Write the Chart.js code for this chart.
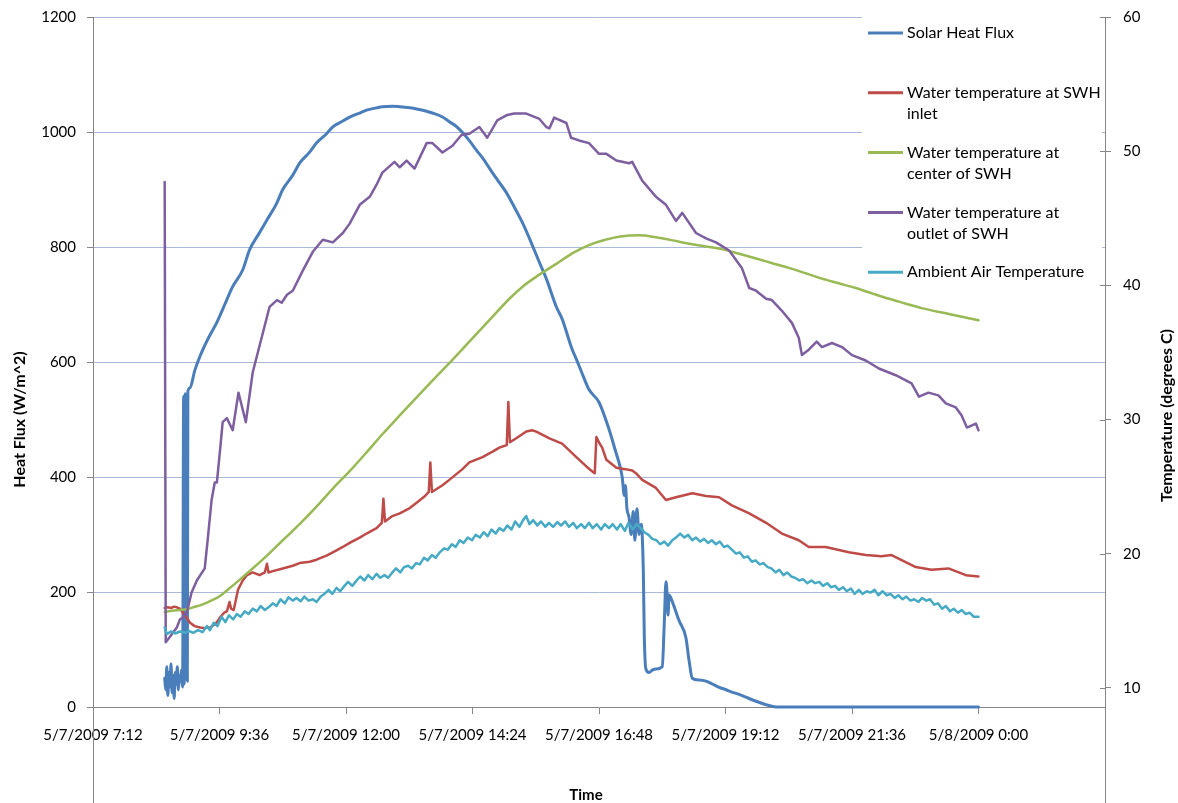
<!DOCTYPE html>
<html>
<head>
<meta charset="utf-8">
<title>Solar water heater test, 5/7/2009</title>
<script src="https://cdn.jsdelivr.net/npm/chart.js@4.4.1/dist/chart.umd.min.js"></script>
<style>
  html, body { margin: 0; padding: 0; background: #fff; overflow: hidden; }
  canvas { display: block; }
</style>
</head>
<body>
<canvas id="chart" width="1178" height="830"></canvas>
<script>
// Time axis: hours after midnight of 5/7/2009 (24 = midnight 5/8/2009)
const tickHours = [7.2, 9.6, 12.0, 14.4, 16.8, 19.2, 21.6, 24.0];
const tickLabels = ['5/7/2009 7:12', '5/7/2009 9:36', '5/7/2009 12:00', '5/7/2009 14:24',
                    '5/7/2009 16:48', '5/7/2009 19:12', '5/7/2009 21:36', '5/8/2009 0:00'];

// Solar heat flux, W/m^2 (left axis)
const fluxHours = [8.56,8.58,8.60,8.62,8.64,8.66,8.68,8.70,8.72,8.74,8.76,8.78,8.80,8.82,8.84,8.86,8.88,8.90,
  8.92,8.93,8.95,8.96,8.98,8.99,9.00,
  9.04,9.13,9.23,9.38,9.55,9.70,9.85,10.04,10.17,10.36,10.50,10.68,10.80,10.99,11.12,11.31,11.44,11.63,11.75,11.94,
  12.07,12.26,12.39,12.58,12.69,12.88,13.02,13.21,13.34,13.53,13.64,13.83,13.96,14.09,14.21,14.34,14.47,14.59,14.78,14.91,
  15.04,15.19,15.35,15.48,15.67,15.80,15.99,16.10,16.29,16.37,16.48,16.61,16.80,16.99,17.13,17.18,
  17.24,17.28,17.30,17.33,17.37,17.41,17.45,17.48,17.52,17.56,17.60,17.64,17.66,17.69,
  17.75,17.81,17.88,18.00,18.04,18.07,18.09,18.11,18.13,18.17,18.32,18.45,18.51,18.57,
  18.70,18.83,18.95,19.08,19.21,19.32,19.46,19.59,19.78,19.97,20.10,20.21,24.00];
const fluxValues = [50,30,70,20,60,35,75,25,55,15,60,40,70,30,55,45,65,35,
  540,40,545,50,535,45,549,
  555,585,610,640,669,700,731,760,795,825,847,875,900,925,946,965,981,997,1009,1019,
  1026,1033,1038,1042,1044,1045,1044,1042,1040,1036,1033,1026,1018,1010,999,985,969,955,929,912,
  895,870,842,815,773,745,696,675,622,605,580,552,530,483,440,425,
  400,368,385,345,330,300,340,290,345,300,318,240,120,66,
  60,64,66,70,150,218,200,160,195,188,150,120,80,50,
  47,45,40,34,30,26,22,17,10,4,1,0,0];

// Water temperature at SWH inlet, deg C (right axis)
const inletHours = [8.56,8.62,8.68,8.74,8.79,8.85,8.91,8.98,9.04,9.13,9.23,9.32,9.42,9.50,9.55,9.62,9.69,9.74,9.79,9.82,
  9.87,9.95,10.04,10.12,10.23,10.36,10.46,10.50,10.53,10.61,10.80,10.99,11.12,11.31,11.44,11.63,11.75,11.94,12.07,12.26,
  12.39,12.58,12.68,12.71,12.74,12.88,13.02,13.21,13.34,13.50,13.57,13.60,13.63,13.83,13.96,14.21,14.34,14.59,14.78,14.91,
  15.05,15.08,15.11,15.23,15.42,15.53,15.61,15.86,16.10,16.37,16.56,16.68,16.72,16.75,16.80,16.86,16.94,17.13,17.30,17.43,
  17.50,17.62,17.75,17.88,18.07,18.26,18.57,18.83,19.08,19.32,19.65,19.97,20.27,20.59,20.78,21.10,21.54,21.86,22.16,22.35,
  22.81,23.11,23.43,23.76,24.00];
const inletTemps = [15.96,16.0,15.95,16.05,16.0,15.9,15.6,15.2,14.85,14.6,14.5,14.45,14.5,14.7,14.9,15.3,15.6,15.7,16.4,15.9,
  15.8,17.3,18.0,18.4,18.6,18.4,18.6,19.25,18.6,18.7,18.9,19.1,19.3,19.4,19.55,19.85,20.1,20.5,20.8,21.2,
  21.5,21.9,22.3,24.1,22.4,22.8,23.0,23.4,23.8,24.3,24.6,26.8,24.6,25.1,25.5,26.3,26.8,27.2,27.6,27.9,
  28.1,31.3,28.3,28.6,29.1,29.2,29.1,28.6,28.2,27.2,26.5,26.1,26.0,28.7,28.3,27.9,27.0,26.4,26.3,26.2,
  26.0,25.5,25.2,24.9,24.0,24.2,24.5,24.3,24.2,23.6,23.0,22.3,21.5,21.0,20.5,20.5,20.1,19.9,19.8,19.9,
  19.0,18.8,18.9,18.4,18.3];

// Water temperature at center of SWH, deg C
const centerHours = [8.56,8.70,8.85,8.98,9.10,9.23,9.36,9.55,9.66,9.80,9.98,10.17,10.36,10.50,10.80,11.12,11.44,11.75,12.07,12.39,
  12.69,13.02,13.34,13.64,13.96,14.34,14.72,15.10,15.35,15.67,15.99,16.30,16.61,16.92,17.24,17.56,17.88,18.20,18.51,18.82,
  19.13,19.46,19.78,20.09,20.40,20.72,21.03,21.35,21.67,21.98,22.30,22.61,22.92,23.46,24.00];
const centerTemps = [15.66,15.75,15.8,15.85,16.0,16.15,16.35,16.7,17.0,17.45,18.05,18.7,19.35,19.85,21.0,22.2,23.5,24.85,26.15,27.55,
  28.9,30.3,31.65,32.9,34.2,35.8,37.4,39.0,39.9,40.8,41.6,42.4,43.0,43.4,43.66,43.73,43.58,43.35,43.1,42.9,
  42.7,42.35,42.0,41.65,41.3,40.9,40.5,40.15,39.8,39.4,39.0,38.65,38.3,37.85,37.4];

// Water temperature at outlet of SWH, deg C
const outletHours = [8.56,8.58,8.66,8.79,8.85,8.89,8.98,9.07,9.17,9.32,9.38,9.45,9.51,9.55,9.61,9.66,9.74,9.85,9.96,10.10,
  10.23,10.36,10.55,10.69,10.78,10.88,10.99,11.18,11.37,11.56,11.75,11.94,12.07,12.26,12.45,12.58,12.69,12.92,13.02,13.15,
  13.30,13.53,13.64,13.83,14.02,14.19,14.34,14.53,14.68,14.87,15.06,15.19,15.42,15.67,15.80,15.86,15.95,16.18,16.27,16.42,
  16.61,16.80,16.94,17.13,17.37,17.43,17.62,17.88,18.07,18.26,18.38,18.64,18.83,19.02,19.27,19.51,19.65,19.78,19.97,20.08,
  20.27,20.46,20.59,20.65,20.78,20.93,21.03,21.22,21.41,21.60,21.86,22.11,22.43,22.73,22.87,23.05,23.24,23.38,23.57,23.68,
  23.78,23.95,24.00];
const outletTemps = [47.7,13.4,13.8,14.5,15.1,15.2,15.6,17.1,18.0,18.9,21.2,24.0,25.3,25.3,27.7,29.8,30.1,29.2,32.0,29.8,
  33.5,35.5,38.4,38.9,38.7,39.3,39.6,41.1,42.5,43.4,43.2,43.9,44.6,46.0,46.6,47.5,48.4,49.2,48.8,49.3,
  48.7,50.6,50.6,49.9,50.4,51.2,51.3,51.8,51.0,52.3,52.7,52.8,52.8,52.4,51.8,51.7,52.5,52.1,51.0,50.8,
  50.6,49.8,49.8,49.3,49.1,49.2,47.8,46.6,46.0,44.8,45.4,43.9,43.5,43.2,42.6,41.3,39.8,39.6,39.0,38.9,
  38.1,37.2,36.1,34.8,35.2,35.8,35.4,35.7,35.4,34.8,34.4,33.8,33.3,32.7,31.7,32.0,31.8,31.2,30.9,30.3,
  29.4,29.7,29.2];

// Ambient air temperature, deg C
const ambientHours = [8.56,8.60,8.68,8.76,8.85,8.94,9.02,9.10,9.19,9.28,9.36,9.42,9.49,9.56,9.64,9.71,9.78,9.86,9.93,10.00,
  10.08,10.15,10.23,10.31,10.38,10.46,10.53,10.61,10.68,10.76,10.84,10.91,10.99,11.06,11.14,11.21,11.29,11.37,11.44,11.52,
  11.59,11.67,11.74,11.82,11.89,11.97,12.04,12.12,12.20,12.27,12.35,12.42,12.50,12.58,12.65,12.73,12.80,12.88,12.95,13.03,
  13.10,13.18,13.25,13.33,13.40,13.48,13.55,13.63,13.70,13.78,13.86,13.93,14.01,14.08,14.16,14.23,14.31,14.39,14.46,14.54,
  14.61,14.69,14.76,14.84,14.91,14.99,15.06,15.14,15.21,15.29,15.36,15.42,15.48,15.55,15.63,15.70,15.78,15.85,15.93,16.01,
  16.08,16.16,16.23,16.31,16.38,16.46,16.53,16.61,16.68,16.76,16.84,16.91,16.99,17.06,17.14,17.21,17.29,17.36,17.44,17.51,
  17.59,17.66,17.74,17.81,17.89,17.96,18.04,18.11,18.19,18.26,18.34,18.42,18.49,18.57,18.64,18.72,18.79,18.87,18.94,19.02,
  19.09,19.17,19.24,19.32,19.40,19.47,19.55,19.62,19.70,19.77,19.85,19.92,20.00,20.07,20.15,20.22,20.30,20.37,20.45,20.52,
  20.60,20.67,20.75,20.83,20.90,20.98,21.05,21.13,21.20,21.28,21.35,21.43,21.50,21.58,21.65,21.73,21.80,21.88,21.95,22.03,
  22.10,22.18,22.26,22.33,22.41,22.48,22.56,22.63,22.71,22.78,22.86,22.93,23.01,23.08,23.16,23.23,23.31,23.38,23.46,23.53,
  23.61,23.68,23.76,23.83,23.91,24.00];
const ambientTemps = [14.5,14.0,14.2,14.05,14.2,14.1,14.25,14.1,14.3,14.15,14.6,14.3,14.85,14.6,15.3,14.9,15.4,15.1,15.5,15.3,
  15.7,15.5,15.9,15.7,16.1,15.8,16.0,16.3,16.1,16.6,16.3,16.75,16.5,16.7,16.45,16.8,16.5,16.6,16.4,16.8,
  17.0,17.3,17.0,17.45,17.2,17.6,17.9,17.6,18.0,18.3,18.0,18.4,18.1,18.5,18.2,18.4,18.2,18.6,18.9,18.6,
  19.0,19.1,18.9,19.3,19.2,19.7,19.5,19.9,19.7,20.1,20.4,20.3,20.7,20.5,21.0,20.8,21.2,21.0,21.4,21.2,
  21.6,21.3,21.8,21.5,21.9,21.7,22.1,21.8,22.4,22.0,22.5,22.8,22.2,22.5,22.1,22.4,22.0,22.3,22.0,22.35,
  22.1,22.4,22.0,22.3,21.9,22.2,21.9,22.3,21.9,22.2,21.8,22.2,21.9,22.2,21.8,22.2,21.7,22.3,21.8,22.2,
  21.9,21.6,21.4,21.1,21.0,20.7,20.9,20.6,21.0,21.2,21.5,21.2,21.4,21.0,21.2,20.9,21.1,20.8,21.0,20.7,
  20.9,20.5,20.6,20.3,20.0,20.1,19.7,19.8,19.4,19.5,19.2,19.3,19.0,18.9,18.6,18.8,18.4,18.6,18.3,18.2,
  18.0,18.1,17.8,18.0,17.8,17.9,17.6,17.8,17.5,17.6,17.3,17.5,17.2,17.4,17.0,17.3,17.0,17.2,17.1,17.3,
  16.9,17.2,16.9,17.0,16.7,16.9,16.6,16.8,16.5,16.6,16.4,16.7,16.5,16.6,16.2,16.3,15.9,16.1,15.7,15.9,
  15.6,15.8,15.5,15.6,15.3,15.3];

const FONT = 'Lato, "Open Sans", "DejaVu Sans", sans-serif';
const AXIS_GREY = '#868686';
const GRID_BLUE = '#aab8d9';
const RIGHT_TITLE = 'Temperature (degrees C)';
const BOTTOM_TITLE = 'Time';

const toPoints = (xs, ys) => xs.map((x, i) => ({ x: x, y: ys[i] }));

function series(label, xs, ys, color, axis, order, width, smooth) {
  return {
    label: label,
    data: toPoints(xs, ys),
    borderColor: color,
    backgroundColor: color,
    borderWidth: width,
    yAxisID: axis,
    order: order,
    pointRadius: 0,
    tension: 0,
    cubicInterpolationMode: smooth ? 'monotone' : 'default',
    borderJoinStyle: 'round',
    borderCapStyle: 'round',
    fill: false
  };
}

// word wrap for the legend entries
function wrapText(ctx, text, maxWidth) {
  const words = text.split(' ');
  const lines = [];
  let line = '';
  words.forEach(w => {
    const test = line ? line + ' ' + w : w;
    if (line && ctx.measureText(test).width > maxWidth) { lines.push(line); line = w; }
    else { line = test; }
  });
  if (line) lines.push(line);
  return lines;
}

// Legend drawn on a white panel inside the plot, the inner half of the
// temperature-axis tick marks, and the right and bottom axis titles
const overlayPlugin = {
  id: 'overlay',
  afterDatasetsDraw(chart) {
    const ctx = chart.ctx;
    const area = chart.chartArea;
    ctx.save();
    ctx.fillStyle = '#ffffff';
    ctx.fillRect(862, 10, 240, 274);
    ctx.font = '16px ' + FONT;
    ctx.textBaseline = 'middle';
    ctx.textAlign = 'left';
    chart.data.datasets.forEach((ds, i) => {
      const y = 33 + i * 59.8;
      ctx.strokeStyle = ds.borderColor;
      ctx.lineWidth = 3;
      ctx.beginPath();
      ctx.moveTo(868, y);
      ctx.lineTo(903, y);
      ctx.stroke();
      ctx.fillStyle = '#000';
      wrapText(ctx, ds.label, 197).forEach((ln, k) => ctx.fillText(ln, 907, y + k * 21.5));
    });

    const tScale = chart.scales.y1;
    ctx.strokeStyle = AXIS_GREY;
    ctx.lineWidth = 1;
    tScale.ticks.forEach(t => {
      const py = Math.round(tScale.getPixelForValue(t.value)) + 0.5;
      ctx.beginPath();
      ctx.moveTo(area.right - 5, py);
      ctx.lineTo(area.right, py);
      ctx.stroke();
    });

    ctx.font = 'bold 15px ' + FONT;
    ctx.fillStyle = '#000';
    ctx.textAlign = 'center';
    ctx.fillText(BOTTOM_TITLE, 586, 795);
    ctx.font = 'bold 16px ' + FONT;
    ctx.translate(1167, (area.top + area.bottom) / 2 - 4);
    ctx.rotate(-Math.PI / 2);
    ctx.fillText(RIGHT_TITLE, 0, 0);
    ctx.restore();
  }
};

const tickFont = { family: FONT, size: 15 };
// vertical axes: no extra margin above/below the plot for the end labels
const noVerticalMargins = s => { s.paddingTop = 0; s.paddingBottom = 0; };

new Chart(document.getElementById('chart'), {
  type: 'line',
  data: {
    datasets: [
      series('Solar Heat Flux', fluxHours, fluxValues, '#4a7ebb', 'y', 5, 3, true),
      series('Water temperature at SWH inlet', inletHours, inletTemps, '#be4b48', 'y1', 4, 2.5, false),
      series('Water temperature at center of SWH', centerHours, centerTemps, '#98b954', 'y1', 3, 2.5, true),
      series('Water temperature at outlet of SWH', outletHours, outletTemps, '#7d5fa0', 'y1', 2, 2.5, false),
      series('Ambient Air Temperature', ambientHours, ambientTemps, '#46aac5', 'y1', 1, 2.5, false)
    ]
  },
  options: {
    responsive: false,
    animation: false,
    events: [],
    layout: { padding: { top: 17, bottom: 8, left: 0, right: 0 } },
    plugins: { legend: { display: false }, tooltip: { enabled: false } },
    scales: {
      x: {
        type: 'linear',
        min: 7.2,
        max: 26.4,
        position: { y: 0 },
        afterBuildTicks: s => { s.ticks = tickHours.map(v => ({ value: v })); },
        ticks: {
          autoSkip: false, maxRotation: 0, minRotation: 0, padding: 13,
          color: '#000', font: tickFont,
          callback: (v, i) => tickLabels[i]
        },
        grid: { drawOnChartArea: false, drawTicks: true, tickLength: 6, tickColor: AXIS_GREY },
        border: { color: AXIS_GREY, width: 1 }
      },
      y: {
        type: 'linear',
        position: 'left',
        min: -200,
        max: 1200,
        ticks: {
          stepSize: 200, padding: 11, color: '#000', font: tickFont,
          callback: v => (v < 0 ? '' : String(v))
        },
        grid: {
          color: c => (c.tick && c.tick.value > 0 ? GRID_BLUE : 'rgba(0,0,0,0)'),
          lineWidth: 1, tickLength: 6, tickColor: AXIS_GREY
        },
        border: { color: AXIS_GREY, width: 1 },
        title: {
          display: true, text: 'Heat Flux (W/m^2)', color: '#000',
          font: { family: FONT, size: 16, weight: 'bold' }, padding: { top: 10, bottom: 0 }
        },
        afterFit: s => { s.width = 93; noVerticalMargins(s); }
      },
      y1: {
        type: 'linear',
        position: 'right',
        min: 0,
        max: 60,
        ticks: {
          stepSize: 10, padding: 12, color: '#000', font: tickFont,
          callback: v => (v === 0 ? '' : String(v))
        },
        grid: { drawOnChartArea: false, tickLength: 6, tickColor: AXIS_GREY },
        border: { color: AXIS_GREY, width: 1 },
        afterFit: s => { s.width = 73; noVerticalMargins(s); }
      }
    }
  },
  plugins: [overlayPlugin]
});
</script>
</body>
</html>
